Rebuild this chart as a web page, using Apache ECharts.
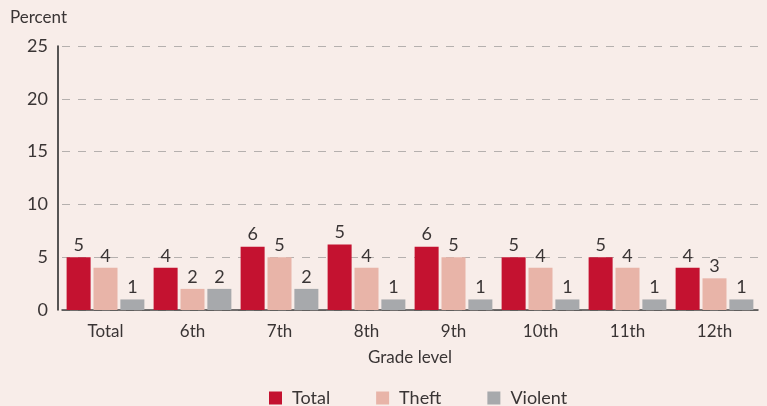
<!DOCTYPE html>
<html>
<head>
<meta charset="utf-8">
<script src="https://cdn.jsdelivr.net/npm/echarts@6/dist/echarts.min.js"></script>
<style>
  html, body { margin: 0; padding: 0; background: #f8ede9; }
  #chart { width: 767px; height: 406px; }
</style>
</head>
<body>
<div id="chart"></div>
<script>
const grades = ['Total', '6th', '7th', '8th', '9th', '10th', '11th', '12th'];
const totalValues = [5, 4, 6, 6.2, 6, 5, 5, 4];
const totalLabels = ['5', '4', '6', '5', '6', '5', '5', '4'];
const theftValues = [4, 2, 5, 4, 5, 4, 4, 3];
const violentValues = [1, 2, 2, 1, 1, 1, 1, 1];
const yTicks = [0, 5, 10, 15, 20, 25];

const chart = echarts.init(document.getElementById('chart'));

const font = 'Lato, "Open Sans", sans-serif';
const textColor = '#3a3535';
const labelStyle = {
  show: true,
  position: 'top',
  distance: 3,
  color: textColor,
  fontSize: 18,
  fontFamily: font,
};

const option = {
  backgroundColor: '#f8ede9',
  animation: false,
  textStyle: { fontFamily: font },
  grid: {
    left: 62,
    right: 9,
    top: 46,
    bottom: 96,
  },
  legend: {
    top: 384,
    left: 264,
    itemWidth: 13,
    itemHeight: 13,
    itemGap: 46,
    icon: 'rect',
    textStyle: { color: textColor, fontSize: 18, fontFamily: font, padding: [0, 0, 0, 5] },
    data: ['Total', 'Theft', 'Violent'],
  },
  xAxis: {
    type: 'category',
    data: grades,
    name: 'Grade level',
    nameLocation: 'middle',
    nameGap: 39,
    nameTextStyle: { color: textColor, fontSize: 17, fontFamily: font },
    axisTick: { show: false },
    axisLine: { lineStyle: { color: '#444', width: 1.5 } },
    axisLabel: { color: textColor, fontSize: 17, margin: 13, fontFamily: font },
  },
  yAxis: {
    type: 'value',
    min: yTicks[0],
    max: yTicks[yTicks.length - 1],
    interval: 5,
    offset: 4,
    name: 'Percent',
    nameLocation: 'end',
    nameGap: 20,
    nameTextStyle: { color: textColor, fontSize: 17, align: 'left', padding: [0, 0, 0, -48], fontFamily: font },
    axisLine: { show: true, lineStyle: { color: '#222', width: 1.5 } },
    axisTick: { show: false },
    axisLabel: { color: textColor, fontSize: 18, margin: 10, fontFamily: font },
    splitLine: {
      lineStyle: { color: '#b5b0ae', type: [8, 8], width: 1 },
    },
  },
  series: [
    {
      name: 'Total',
      type: 'bar',
      data: totalValues,
      barWidth: 24,
      barGap: '12%',
      itemStyle: { color: '#c41230' },
      label: Object.assign({}, labelStyle, {
        formatter: (p) => totalLabels[p.dataIndex],
      }),
    },
    {
      name: 'Theft',
      type: 'bar',
      data: theftValues,
      barWidth: 24,
      barGap: '12%',
      itemStyle: { color: '#e8b4a8' },
      label: labelStyle,
    },
    {
      name: 'Violent',
      type: 'bar',
      data: violentValues,
      barWidth: 24,
      barGap: '12%',
      itemStyle: { color: '#a7a9ac' },
      label: labelStyle,
    },
  ],
};

option && chart.setOption(option);
</script>
</body>
</html>
